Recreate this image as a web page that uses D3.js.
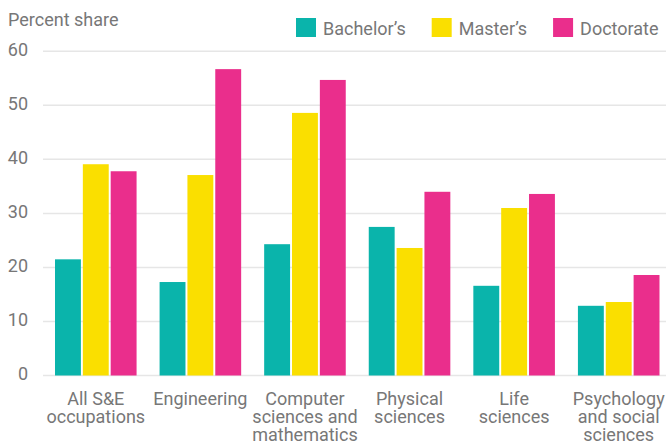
<!DOCTYPE html>
<html>
<head>
<meta charset="utf-8">
<script src="https://cdn.jsdelivr.net/npm/d3@7"></script>
<style>
  body { margin: 0; background: #fff; }
  text { font-family: Roboto, "Noto Sans", sans-serif; fill: #777; }
</style>
</head>
<body>
<svg></svg>
<script>
// categories and series
var categories = [
  ["All S&E", "occupations"],
  ["Engineering"],
  ["Computer", "sciences and", "mathematics"],
  ["Physical", "sciences"],
  ["Life", "sciences"],
  ["Psychology", "and social", "sciences"]
];
var seriesNames = ["Bachelor\u2019s", "Master\u2019s", "Doctorate"];
var bachelors = [21.5, 17.3, 24.3, 27.5, 16.6, 12.9];
var masters   = [39.1, 37.1, 48.6, 23.6, 31.0, 13.6];
var doctorate = [37.8, 56.7, 54.7, 34.0, 33.6, 18.6];
var yTicks = [0, 10, 20, 30, 40, 50, 60];
var colors = ["#0ab4ab", "#fadf00", "#ea2e8c"];

var width = 666, height = 443;

var svg = d3.select("svg")
    .attr("width", width)
    .attr("height", height);

var rows = categories.map(function(c, i){
  return { key: i, label: c, values: [bachelors[i], masters[i], doctorate[i]] };
});

var y = d3.scaleLinear()
    .domain([0, 60])
    .range([375.5, 51.3]);

var x = d3.scaleBand()
    .domain(d3.range(categories.length))
    .range([55, 659.5])
    .paddingInner(0.22)
    .paddingOuter(0);

var xInner = d3.scaleBand()
    .domain(d3.range(seriesNames.length))
    .range([0, x.bandwidth()])
    .paddingInner(0.07);

// gridlines
svg.append("g")
  .selectAll("line")
  .data(yTicks)
  .enter()
  .append("line")
    .attr("x1", 43)
    .attr("x2", width)
    .attr("y1", d => y(d))
    .attr("y2", d => y(d))
    .attr("stroke", "#e6e6e6")
    .attr("stroke-width", 1.5);

// y labels
svg.append("g")
  .selectAll("text")
  .data(yTicks)
  .enter()
  .append("text")
    .attr("x", 28)
    .attr("y", d => y(d) - 2)
    .attr("dy", "0.35em")
    .attr("text-anchor", "end")
    .style("font-size", "18px")
    .text(d => d);

svg.append("text")
    .attr("x", 8)
    .attr("y", 25.5)
    .style("font-size", "18px")
    .text("Percent share");

// bars
var groups = svg.append("g")
  .selectAll("g")
  .data(rows)
  .enter()
  .append("g")
    .attr("transform", d => "translate(" + x(d.key) + ",0)");

groups.selectAll("rect")
  .data(d => d.values)
  .enter()
  .append("rect")
    .attr("x", (d, i) => xInner(i))
    .attr("width", xInner.bandwidth())
    .attr("y", d => y(d))
    .attr("height", d => y(0) - y(d))
    .attr("fill", (d, i) => colors[i]);

// category labels
groups.append("text")
    .attr("text-anchor", "middle")
    .style("font-size", "18px")
  .selectAll("tspan")
  .data(d => d.label)
  .enter()
  .append("tspan")
    .attr("x", x.bandwidth() / 2)
    .attr("y", (d, i) => 404.5 + i * 18)
    .text(d => d);

// legend
var legend = svg.append("g");
var lx = 296;
seriesNames.forEach(function(name, i){
  legend.append("rect")
      .attr("x", lx)
      .attr("y", 18)
      .attr("width", 20)
      .attr("height", 19)
      .attr("fill", colors[i]);
  var t = legend.append("text")
      .attr("x", lx + 27)
      .attr("y", 35)
      .style("font-size", "18px")
      .text(name);
  lx += 27 + t.node().getComputedTextLength() + 26;
});
</script>
</body>
</html>
